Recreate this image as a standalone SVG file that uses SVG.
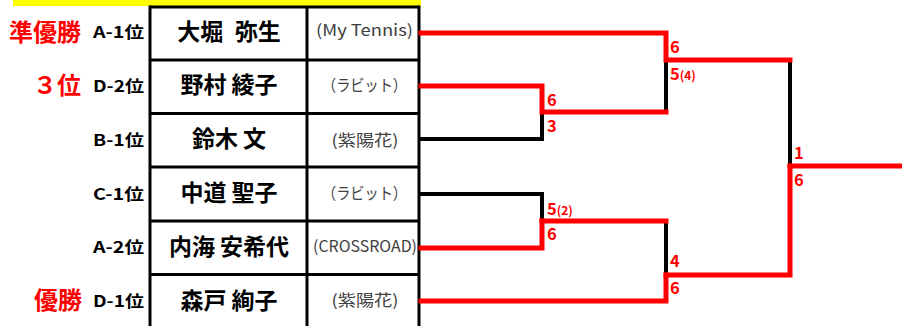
<svg xmlns="http://www.w3.org/2000/svg" width="902" height="326" viewBox="0 0 902 326">
<style>
text{font-family:"Noto Sans CJK JP","Noto Sans",sans-serif}
.rank{fill:#ff0000;font-weight:bold;font-size:24px;text-anchor:end}
.seed{fill:#000;font-weight:bold;font-size:16px;text-anchor:end}
.name{fill:#000;font-weight:bold;font-size:23px;text-anchor:middle}
.club{fill:#404040;font-size:16px;text-anchor:middle}
.grid{stroke:#000;stroke-width:3;fill:none}
.win{stroke:#ff0000;stroke-width:5;fill:none;stroke-linecap:square;stroke-linejoin:miter}
.lose{stroke:#000;stroke-width:4;fill:none;stroke-linecap:butt}
.score{fill:#ff0000;font-weight:bold;font-size:16.5px}
.tb{font-size:12px}
</style>
<rect x="13" y="0" width="408" height="6" fill="#ffff00"/>
<g id="table" class="grid">
<path d="M150,7H419M150,60H419M150,113.5H419M150,167H419M150,221H419M150,274.5H419"/>
<path d="M150,5.5V326M307,7V326M419,5.5V326"/>
</g>
<g id="player1">
<text class="rank" x="81" y="40.5">準優勝</text>
<text class="seed" x="144" y="37.5" textLength="51" lengthAdjust="spacingAndGlyphs">A-1位</text>
<text class="name" x="229" y="40">大堀&#8194;弥生</text>
<text class="club" x="364.5" y="36" textLength="97" lengthAdjust="spacingAndGlyphs">(My Tennis)</text>
</g>
<g id="player2">
<text class="rank" x="81" y="94">３位</text>
<text class="seed" x="144" y="92.3" textLength="51" lengthAdjust="spacingAndGlyphs">D-2位</text>
<text class="name" x="229" y="93.4">野村 綾子</text>
<text class="club" x="364.5" y="91" textLength="85" lengthAdjust="spacingAndGlyphs">（ラビット）</text>
</g>
<g id="player3">
<text class="seed" x="144" y="146" textLength="51" lengthAdjust="spacingAndGlyphs">B-1位</text>
<text class="name" x="229" y="146.7">鈴木 文</text>
<text class="club" x="365" y="145.5" textLength="67" lengthAdjust="spacingAndGlyphs">(紫陽花)</text>
</g>
<g id="player4">
<text class="seed" x="144" y="199.5" textLength="51" lengthAdjust="spacingAndGlyphs">C-1位</text>
<text class="name" x="229" y="201">中道 聖子</text>
<text class="club" x="364.5" y="198.5" textLength="85" lengthAdjust="spacingAndGlyphs">（ラビット）</text>
</g>
<g id="player5">
<text class="seed" x="144" y="253.3" textLength="51" lengthAdjust="spacingAndGlyphs">A-2位</text>
<text class="name" x="229" y="255">内海 安希代</text>
<text class="club" x="365" y="251.7" textLength="104" lengthAdjust="spacingAndGlyphs">(CROSSROAD)</text>
</g>
<g id="player6">
<text class="rank" x="82" y="308.5">優勝</text>
<text class="seed" x="144" y="306.7" textLength="51" lengthAdjust="spacingAndGlyphs">D-1位</text>
<text class="name" x="229" y="308.5">森戸 絢子</text>
<text class="club" x="365" y="306" textLength="67" lengthAdjust="spacingAndGlyphs">(紫陽花)</text>
</g>
<g id="connectors">
<path class="lose" d="M419,139H542V112M666,60V112M790,60V166M419,194H542V221M666,221V275"/>
<path class="win" d="M421,33H666V60H790"/>
<path class="win" d="M421,86H542V112H666"/>
<path class="win" d="M790,166H904"/>
<path class="win" d="M790,166V275H666"/>
<path class="win" d="M542,221H666"/>
<path class="win" d="M421,248H542V221"/>
<path class="win" d="M421,301H666V275"/>
</g>
<g id="scores">
<text class="score" x="670" y="52.5">6</text>
<text class="score" x="670" y="79.5">5<tspan class="tb">(4)</tspan></text>
<text class="score" x="547" y="106">6</text>
<text class="score" x="547" y="132">3</text>
<text class="score" x="547" y="215">5<tspan class="tb">(2)</tspan></text>
<text class="score" x="547" y="240">6</text>
<text class="score" x="670" y="267">4</text>
<text class="score" x="670" y="294">6</text>
<text class="score" x="794" y="159.3">1</text>
<text class="score" x="794" y="186">6</text>
</g>
</svg>
